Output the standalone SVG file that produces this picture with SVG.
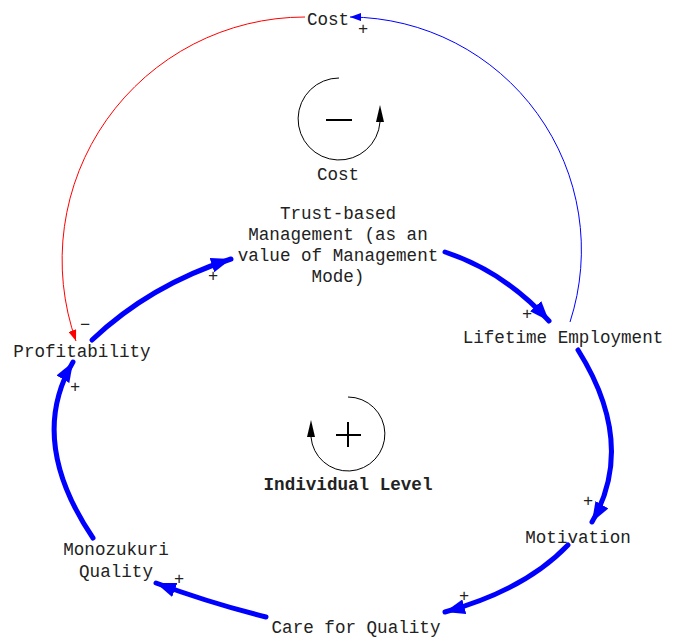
<svg xmlns="http://www.w3.org/2000/svg" width="674" height="639" viewBox="0 0 674 639">
<style>
.t{font-family:"Liberation Mono","DejaVu Sans Mono",monospace;font-size:17.6px;fill:#222;text-anchor:middle}
.s{font-family:"Liberation Mono","DejaVu Sans Mono",monospace;font-size:17px;fill:#222;text-anchor:middle}
.thick{fill:none;stroke:#0000ff;stroke-width:5;stroke-linecap:round}
</style>
<defs>
<marker id="ah" markerUnits="userSpaceOnUse" markerWidth="21" markerHeight="15" refX="20" refY="7.5" orient="auto"><path d="M0,0 L20,7.5 L0,15 Z" fill="#0000ff"/></marker>
<marker id="ab" markerUnits="userSpaceOnUse" markerWidth="12" markerHeight="8" refX="11" refY="4" orient="auto"><path d="M0,0 L11,4 L0,8 Z" fill="#0000ff"/></marker>
<marker id="ar" markerUnits="userSpaceOnUse" markerWidth="12" markerHeight="8" refX="11" refY="4" orient="auto"><path d="M0,0 L11,4 L0,8 Z" fill="#ff0000"/></marker>
</defs>
<g id="connectors">
<path d="M305,17 A243,243 0 0 0 76,341" fill="none" stroke="#ff0000" stroke-width="1" marker-end="url(#ar)"/>
<path d="M570,322 A233,233 0 0 0 350,17" fill="none" stroke="#0000ff" stroke-width="1" marker-end="url(#ab)"/>
<path d="M445,252 Q505,272 549,321" class="thick" marker-end="url(#ah)"/>
<path d="M578,350 Q637,444 592,522" class="thick" marker-end="url(#ah)"/>
<path d="M568,545 Q525,590 445,612" class="thick" marker-end="url(#ah)"/>
<path d="M266,617 Q210,603 156,583" class="thick" marker-end="url(#ah)"/>
<path d="M93,538 Q27,440 73,362" class="thick" marker-end="url(#ah)"/>
<path d="M92,340 Q150,285 231,259" class="thick" marker-end="url(#ah)"/>
<text class="s" x="85" y="330">−</text>
<text class="s" x="363" y="34">+</text>
<text class="s" x="527" y="319">+</text>
<text class="s" x="588" y="506">+</text>
<text class="s" x="464" y="601">+</text>
<text class="s" x="179" y="584">+</text>
<text class="s" x="75" y="392">+</text>
<text class="s" x="213" y="281">+</text>
</g>
<g id="loop-cost">
<path d="M339,78 A41,41 0 1 0 380,122" fill="none" stroke="#000" stroke-width="1"/>
<path d="M380,105 L376,122 L384,122 Z" fill="#000"/>
<line x1="326" y1="120" x2="352" y2="120" stroke="#000" stroke-width="2"/>
<text class="t" x="338" y="180">Cost</text>
</g>
<g id="loop-individual">
<path d="M348,397 A37,37 0 1 1 311,437" fill="none" stroke="#000" stroke-width="1"/>
<path d="M311,420 L307,437 L315,437 Z" fill="#000"/>
<line x1="336" y1="435" x2="361" y2="435" stroke="#000" stroke-width="2"/>
<line x1="348" y1="422" x2="348" y2="447" stroke="#000" stroke-width="2"/>
<text class="t" x="348" y="490" font-weight="bold">Individual Level</text>
</g>
<g id="cost"><text class="t" x="328" y="25">Cost</text></g>
<g id="trust">
<text class="t" x="338" y="219">Trust-based</text>
<text class="t" x="338" y="240">Management (as an</text>
<text class="t" x="338" y="261">value of Management</text>
<text class="t" x="338" y="282">Mode)</text>
</g>
<g id="profitability"><text class="t" x="82" y="357">Profitability</text></g>
<g id="lifetime"><text class="t" x="563" y="343">Lifetime Employment</text></g>
<g id="motivation"><text class="t" x="578" y="543">Motivation</text></g>
<g id="care"><text class="t" x="356" y="633">Care for Quality</text></g>
<g id="monozukuri">
<text class="t" x="116" y="555">Monozukuri</text>
<text class="t" x="116" y="577">Quality</text>
</g>
</svg>
